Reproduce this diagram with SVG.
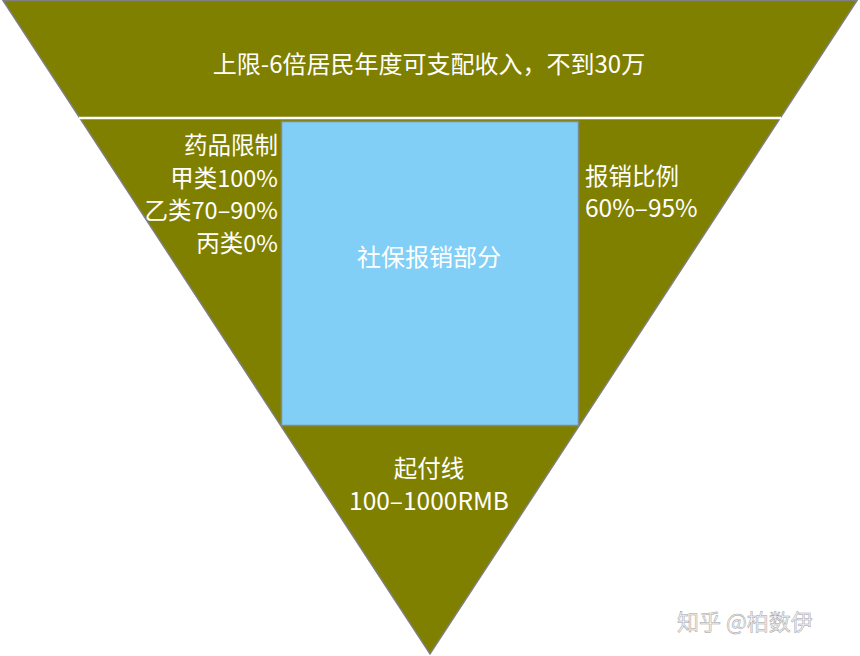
<svg xmlns="http://www.w3.org/2000/svg" width="860" height="656" viewBox="0 0 860 656">
<style>
text{font-family:"Noto Sans CJK SC","Liberation Sans",sans-serif;font-size:23.5px;fill:#ffffff}
.c{text-anchor:middle}
.r{text-anchor:end}
.wm{font-size:22px;fill:#f6f6f6;stroke:#a0a0a0;stroke-width:0.5}
</style>
<rect width="860" height="656" fill="#ffffff"/>
<g id="triangle">
<polygon points="3,0.5 857,0.5 430,654" fill="#808000" stroke="#7f7f7f" stroke-width="1.5"/>
</g>
<g id="connectors">
<line x1="79" y1="118" x2="781" y2="118" stroke="#ffffff" stroke-width="2.5"/>
</g>
<g id="top-band">
<text class="c" x="429" y="73" style="font-size:24px">上限-6倍居民年度可支配收入，不到30万</text>
</g>
<g id="box">
<rect x="281.5" y="121.5" width="297" height="304" fill="#81cff7" stroke="#7f8a8a" stroke-width="1.5"/>
<text class="c" x="429" y="266" style="font-size:24px">社保报销部分</text>
</g>
<g id="drug-limit">
<text class="r" x="278" y="154">药品限制</text>
<text class="r" x="278" y="187">甲类100%</text>
<text class="r" x="278" y="219">乙类70–90%</text>
<text class="r" x="278" y="252">丙类0%</text>
</g>
<g id="ratio">
<text x="585" y="185">报销比例</text>
<text x="585" y="217" style="font-size:24.5px">60%–95%</text>
</g>
<g id="threshold">
<text class="c" x="429" y="477">起付线</text>
<text class="c" x="429" y="510" style="font-size:24.5px">100–1000RMB</text>
</g>
<g id="watermark">
<text class="wm" x="677" y="630">知乎 @柏数伊</text>
</g>
</svg>
